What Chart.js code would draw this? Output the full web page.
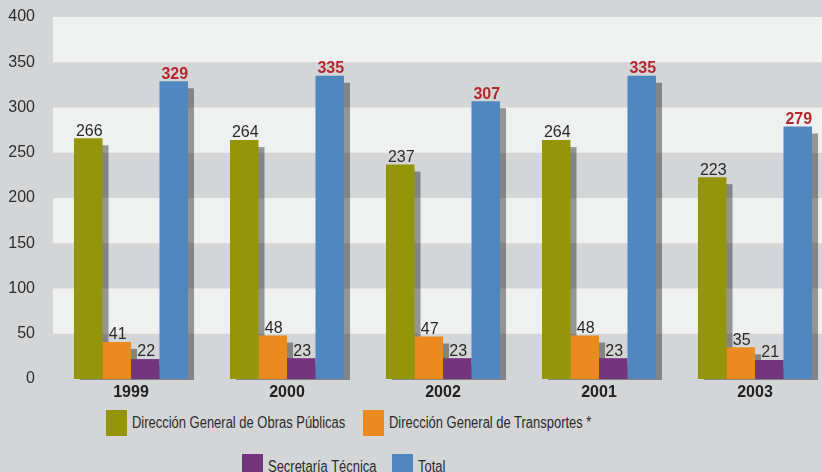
<!DOCTYPE html>
<html><head><meta charset="utf-8">
<script src="https://cdn.jsdelivr.net/npm/chart.js@4.4.1/dist/chart.umd.min.js"></script>
<style>
html,body{margin:0;padding:0;background:#d4d5d7;overflow:hidden;width:822px;height:472px;}
#wrap{position:relative;width:822px;height:472px;overflow:hidden;}
#c{position:absolute;left:0;top:0;}
.leg{position:absolute;height:26px;display:flex;align-items:center;white-space:nowrap;}
.leg .box{width:21px;height:26px;flex:none;}
.leg .txt{font:16px "Liberation Sans",Arial,sans-serif;color:#2b2b2b;margin-left:5px;transform:scaleX(0.81);transform-origin:left center;}
</style></head>
<body><div id="wrap"><canvas id="c" width="840" height="410"></canvas></div>
<script>
const categories = ['1999', '2000', '2002', '2001', '2003'];
const seriesNames = ['Dirección General de Obras Públicas', 'Dirección General de Transportes *', 'Secretaría Técnica', 'Total'];
const obrasPublicas = [266, 264, 237, 264, 223];
const transportes = [41, 48, 47, 48, 35];
const secretaria = [22, 23, 23, 23, 21];
const total = [329, 335, 307, 335, 279];
const yTicks = [0, 50, 100, 150, 200, 250, 300, 350, 400];

const seriesValues = [obrasPublicas, transportes, secretaria, total];
const colors = ['#95950a', '#ea8a1f', '#74357f', '#5087bf'];
const legendPos = [[106, 410], [363, 410], [242, 454], [392, 454]];

const bandsPlugin = {
  id: 'bands',
  beforeDatasetsDraw(chart) {
    const {ctx, chartArea, scales: {y}} = chart;
    ctx.save();
    ctx.fillStyle = '#eff0f0';
    for (let i = 0; i < yTicks.length - 1; i++) {
      if (i % 2 === 1) {
        const top = y.getPixelForValue(yTicks[i + 1]);
        const bot = y.getPixelForValue(yTicks[i]);
        ctx.fillRect(chartArea.left, top, chartArea.right - chartArea.left, bot - top);
      }
    }
    // shadows
    ctx.fillStyle = 'rgba(0,0,0,0.38)';
    chart.data.datasets.forEach((ds, di) => {
      const meta = chart.getDatasetMeta(di);
      meta.data.forEach(el => {
        const p = el.getProps(['x', 'y', 'width', 'base'], true);
        const h = p.base - p.y - 7;
        if (h > 0) ctx.fillRect(p.x - p.width / 2 + 6, p.y + 7, p.width, h + 1);
      });
    });
    ctx.restore();
  }
};

const labelsPlugin = {
  id: 'vlabels',
  afterDatasetsDraw(chart) {
    const {ctx} = chart;
    ctx.save();
    ctx.textAlign = 'center';
    ctx.textBaseline = 'bottom';
    chart.data.datasets.forEach((ds, di) => {
      const meta = chart.getDatasetMeta(di);
      const isTotal = di === 3;
      ctx.font = (isTotal ? 'bold ' : '') + '16px "Liberation Sans", Arial, sans-serif';
      ctx.fillStyle = isTotal ? '#b3282e' : '#2a2a2a';
      meta.data.forEach((el, i) => {
        const p = el.getProps(['x', 'y'], true);
        ctx.fillText(String(ds.data[i]), p.x + 1, p.y + 1);
      });
    });
    ctx.restore();
  }
};

new Chart(document.getElementById('c'), {
  type: 'bar',
  data: {
    labels: categories,
    datasets: seriesNames.map((n, i) => ({
      label: n,
      data: seriesValues[i],
      backgroundColor: colors[i],
      borderWidth: 0,
      barPercentage: 1,
      categoryPercentage: 0.731
    }))
  },
  options: {
    responsive: false,
    animation: false,
    devicePixelRatio: 1,
    layout: {autoPadding: false, padding: {top: 17, right: 7, left: 0, bottom: 0}},
    plugins: {legend: {display: false}, tooltip: {enabled: false}},
    scales: {
      x: {
        grid: {display: false, drawTicks: false},
        border: {display: false},
        ticks: {color: '#222', padding: 4, font: {family: '"Liberation Sans", Arial, sans-serif', size: 16, weight: 'bold'}},
        afterFit(s) { s.height = 31; }
      },
      y: {
        min: 0, max: 400,
        grid: {display: false, drawTicks: false},
        border: {display: false},
        afterBuildTicks(s) { s.ticks = yTicks.map(v => ({value: v})); },
        ticks: {color: '#2e2e2e', padding: 18, font: {family: '"Liberation Sans", Arial, sans-serif', size: 16}},
        afterFit(s) { s.width = 53; s.paddingTop = 0; s.paddingBottom = 0; }
      }
    }
  },
  plugins: [bandsPlugin, labelsPlugin]
});

const wrap = document.getElementById('wrap');
seriesNames.forEach((n, i) => {
  const d = document.createElement('div');
  d.className = 'leg';
  d.style.left = legendPos[i][0] + 'px';
  d.style.top = legendPos[i][1] + 'px';
  const b = document.createElement('div');
  b.className = 'box';
  b.style.background = colors[i];
  const t = document.createElement('span');
  t.className = 'txt';
  t.textContent = n;
  d.appendChild(b); d.appendChild(t);
  wrap.appendChild(d);
});
</script>
</body></html>
